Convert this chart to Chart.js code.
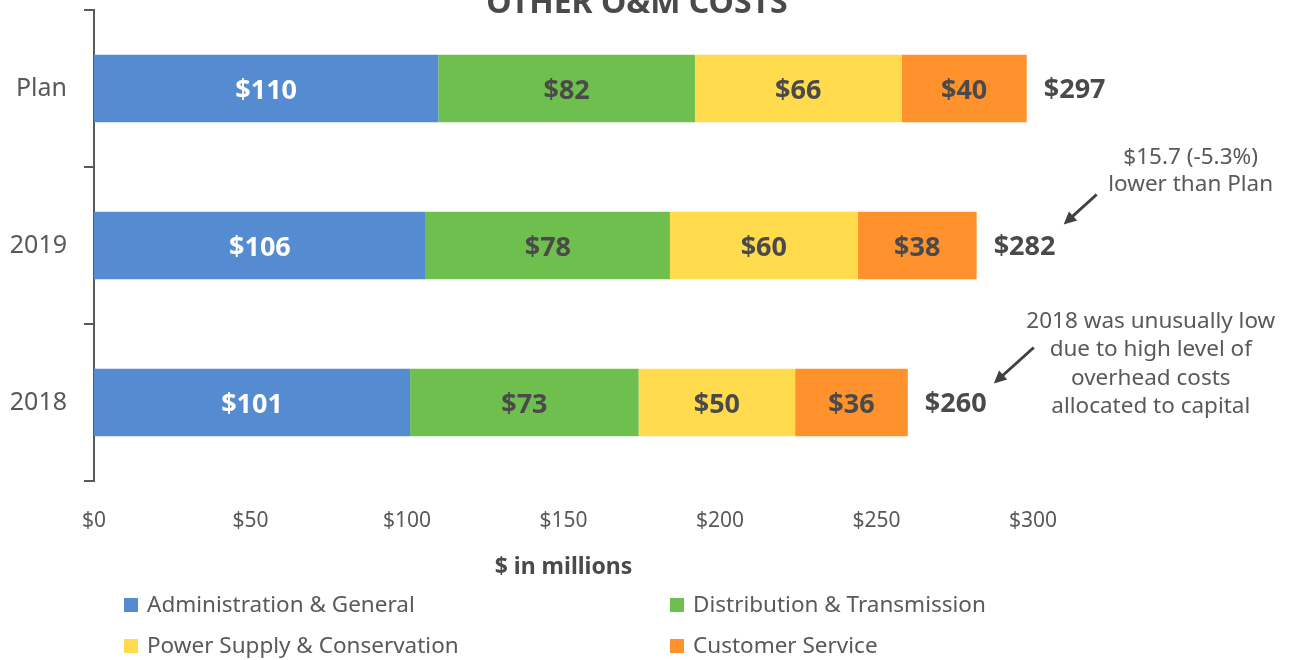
<!DOCTYPE html>
<html>
<head>
<meta charset="utf-8">
<script src="https://cdn.jsdelivr.net/npm/chart.js@4"></script>
<style>
  html, body { margin: 0; padding: 0; background: #fff; }
</style>
</head>
<body>
<canvas id="omChart" width="1290" height="660"></canvas>
<script>
// ---- data ----
const categories = ['Plan', '2019', '2018'];
const seriesNames = ['Administration & General', 'Distribution & Transmission', 'Power Supply & Conservation', 'Customer Service'];
const adminGeneral = [110, 106, 101];
const distTransmission = [82, 78, 73];
const powerSupply = [66, 60, 50];
const customerService = [40, 38, 36];
const totals = [297, 282, 260];
const xTickValues = [0, 50, 100, 150, 200, 250, 300];

const seriesColors = ['#558bd1', '#6fbf4f', '#ffdb4d', '#ff922d'];
const FONT = '"Noto Sans", "Open Sans", sans-serif';
const DARK = '#4a4a4a';
const GREY = '#595959';

// title is clipped at the top edge like the original
const titlePlugin = {
    id: 'clippedTitle',
    afterDraw(chart) {
        const ctx = chart.ctx;
        ctx.save();
        ctx.font = 'bold 32px ' + FONT;
        ctx.fillStyle = DARK;
        ctx.textAlign = 'center';
        ctx.textBaseline = 'alphabetic';
        ctx.fillText('OTHER O&M COSTS', chart.width / 2 - 8, 13);
        ctx.restore();
    }
};

const barLabelPlugin = {
    id: 'barLabels',
    afterDatasetsDraw(chart) {
        const ctx = chart.ctx;
        ctx.save();
        ctx.textAlign = 'center';
        ctx.textBaseline = 'middle';
        ctx.font = 'bold 27px ' + FONT;
        chart.data.datasets.forEach((ds, di) => {
            chart.getDatasetMeta(di).data.forEach((bar, i) => {
                ctx.fillStyle = di === 0 ? '#ffffff' : DARK;
                ctx.fillText('$' + ds.data[i], (bar.x + bar.base) / 2, bar.y + 3);
            });
        });

        // totals to the right of each stack
        const last = chart.getDatasetMeta(chart.data.datasets.length - 1);
        ctx.textAlign = 'left';
        ctx.fillStyle = DARK;
        last.data.forEach((bar, i) => {
            ctx.fillText('$' + totals[i], bar.x + 17, bar.y + 2);
        });
        ctx.restore();
    }
};

function drawArrow(ctx, x1, y1, x2, y2) {
    const ang = Math.atan2(y2 - y1, x2 - x1);
    const head = 14;
    ctx.beginPath();
    ctx.moveTo(x1, y1);
    ctx.lineTo(x2 - Math.cos(ang) * head * 0.8, y2 - Math.sin(ang) * head * 0.8);
    ctx.stroke();
    ctx.beginPath();
    ctx.moveTo(x2, y2);
    ctx.lineTo(x2 - head * Math.cos(ang - 0.45), y2 - head * Math.sin(ang - 0.45));
    ctx.lineTo(x2 - head * Math.cos(ang + 0.45), y2 - head * Math.sin(ang + 0.45));
    ctx.closePath();
    ctx.fill();
}

const notePlugin = {
    id: 'notes',
    afterDraw(chart) {
        const ctx = chart.ctx;
        const last = chart.getDatasetMeta(chart.data.datasets.length - 1).data;
        const b2019 = last[1];
        const b2018 = last[2];
        ctx.save();
        ctx.font = '22.5px ' + FONT;
        ctx.fillStyle = GREY;
        ctx.textAlign = 'center';
        ctx.textBaseline = 'middle';
        ctx.fillText('$15.7 (-5.3%)', b2019.x + 214, b2019.y - 88);
        ctx.fillText('lower than Plan', b2019.x + 214, b2019.y - 61);
        ['2018 was unusually low', 'due to high level of', 'overhead costs', 'allocated to capital']
            .forEach((t, k) => ctx.fillText(t, b2018.x + 243, b2018.y - 81 + k * 28.5));

        ctx.strokeStyle = '#404040';
        ctx.fillStyle = '#404040';
        ctx.lineWidth = 3;
        drawArrow(ctx, b2019.x + 120, b2019.y - 51, b2019.x + 87, b2019.y - 21);
        drawArrow(ctx, b2018.x + 126, b2018.y - 55, b2018.x + 86, b2018.y - 19);
        ctx.restore();
    }
};

// two-column legend under the axis title
const legendPlugin = {
    id: 'gridLegend',
    afterDraw(chart) {
        const ctx = chart.ctx;
        const cols = [124, 670];
        const rows = [606, 647];
        ctx.save();
        ctx.font = '22.5px ' + FONT;
        ctx.textAlign = 'left';
        ctx.textBaseline = 'middle';
        chart.data.datasets.forEach((ds, i) => {
            const x = cols[i % 2];
            const y = rows[Math.floor(i / 2)];
            ctx.fillStyle = ds.backgroundColor;
            ctx.fillRect(x, y - 8, 14, 14);
            ctx.fillStyle = GREY;
            ctx.fillText(ds.label, x + 23, y);
        });
        ctx.restore();
    }
};

const seriesData = [adminGeneral, distTransmission, powerSupply, customerService];

new Chart(document.getElementById('omChart'), {
    type: 'bar',
    data: {
        labels: categories,
        datasets: seriesData.map((vals, i) => ({
            label: seriesNames[i],
            data: vals,
            backgroundColor: seriesColors[i],
            borderWidth: 0,
            barPercentage: 0.43,
            categoryPercentage: 1
        }))
    },
    options: {
        indexAxis: 'y',
        responsive: false,
        animation: false,
        devicePixelRatio: 1,
        layout: { padding: { top: 10, right: 257, bottom: 81, left: 0 } },
        scales: {
            x: {
                stacked: true,
                min: 0,
                max: 300,
                afterBuildTicks: (s) => { s.ticks = xTickValues.map(v => ({ value: v })); },
                afterFit: (s) => { s.height = 98; },
                grid: { display: false, drawTicks: false },
                border: { display: false },
                ticks: {
                    padding: 27,
                    color: GREY,
                    font: { family: FONT, size: 21 },
                    callback: (v) => '$' + v
                },
                title: {
                    display: true,
                    text: '$ in millions',
                    color: DARK,
                    font: { family: FONT, size: 23, weight: 'bold' },
                    padding: { top: 0, bottom: -2 }
                }
            },
            y: {
                stacked: true,
                afterFit: (s) => {
                    s.width = 94;
                    s.paddingTop = 0;
                    s.paddingBottom = 0;
                },
                grid: {
                    display: true,
                    offset: true,
                    drawOnChartArea: false,
                    drawTicks: true,
                    tickLength: 10,
                    color: GREY,
                    lineWidth: 2
                },
                border: { display: true, color: GREY, width: 2 },
                ticks: {
                    padding: 17,
                    color: GREY,
                    font: { family: FONT, size: 25 }
                }
            }
        },
        plugins: {
            legend: { display: false },
            tooltip: { enabled: false }
        }
    },
    plugins: [barLabelPlugin, notePlugin, legendPlugin, titlePlugin]
});
</script>
</body>
</html>
